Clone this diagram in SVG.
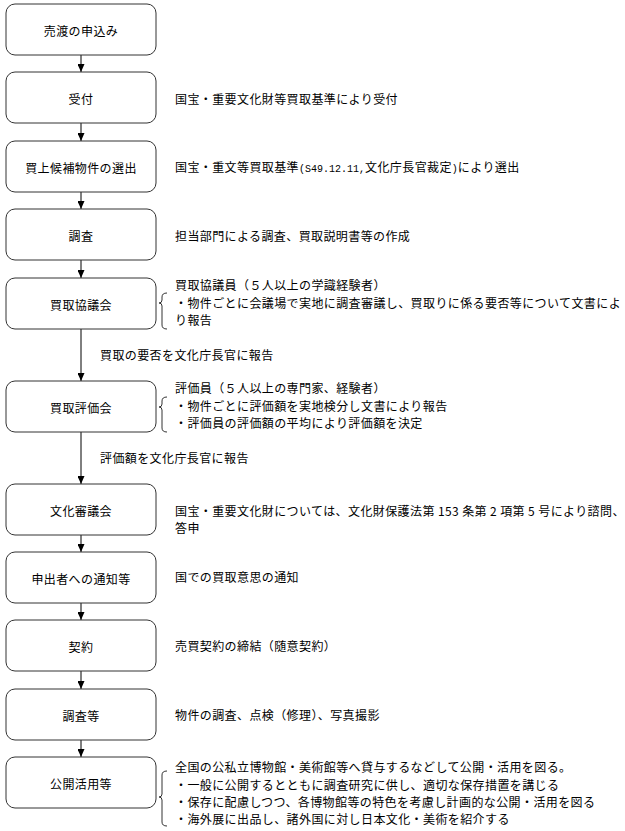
<svg xmlns="http://www.w3.org/2000/svg" width="625" height="831" viewBox="0 0 625 831">
<style>
.box{fill:#fff;stroke:#333;stroke-width:1}
.t{font-family:"Noto Sans CJK JP","Noto Sans CJK SC",sans-serif;font-size:12px;fill:#000;letter-spacing:0.4px}
.c{text-anchor:middle}
.m{font-family:"Liberation Mono","DejaVu Sans Mono",monospace;font-size:10px;letter-spacing:0}
.ln{stroke:#000;stroke-width:1;fill:none}
.br{stroke:#333;stroke-width:1;fill:none}
</style>
<defs>
<marker id="ah" viewBox="0 0 8 7" refX="8" refY="3.5" markerWidth="8" markerHeight="7" markerUnits="userSpaceOnUse" orient="auto">
<path d="M0,0 L8,3.5 L0,7 Z" fill="#000"/>
</marker>
</defs>
<rect width="625" height="831" fill="#fff"/>
<g id="connectors">
<line class="ln" x1="81" y1="55" x2="81" y2="72" marker-end="url(#ah)"/>
<line class="ln" x1="81" y1="123" x2="81" y2="141" marker-end="url(#ah)"/>
<line class="ln" x1="81" y1="192" x2="81" y2="209" marker-end="url(#ah)"/>
<line class="ln" x1="81" y1="260" x2="81" y2="278" marker-end="url(#ah)"/>
<line class="ln" x1="81" y1="329" x2="81" y2="381" marker-end="url(#ah)"/>
<text class="t" x="100" y="360">買取の要否を文化庁長官に報告</text>
<line class="ln" x1="81" y1="432" x2="81" y2="484" marker-end="url(#ah)"/>
<text class="t" x="100" y="463">評価額を文化庁長官に報告</text>
<line class="ln" x1="81" y1="535" x2="81" y2="552" marker-end="url(#ah)"/>
<line class="ln" x1="81" y1="603" x2="81" y2="620" marker-end="url(#ah)"/>
<line class="ln" x1="81" y1="671" x2="81" y2="689" marker-end="url(#ah)"/>
<line class="ln" x1="81" y1="740" x2="81" y2="757" marker-end="url(#ah)"/>
</g>
<g id="n1"><rect class="box" x="6" y="4" width="150" height="51" rx="9"/><text class="t c" x="81" y="36">売渡の申込み</text></g>
<g id="n2"><rect class="box" x="6" y="72" width="150" height="51" rx="9"/><text class="t c" x="81" y="104">受付</text>
<text class="t" x="175" y="104">国宝・重要文化財等買取基準により受付</text></g>
<g id="n3"><rect class="box" x="6" y="141" width="150" height="51" rx="9"/><text class="t c" x="81" y="173">買上候補物件の選出</text>
<text class="t" x="175" y="172">国宝・重文等買取基準<tspan class="m">(S49.12.11,</tspan>文化庁長官裁定<tspan class="m">)</tspan>により選出</text></g>
<g id="n4"><rect class="box" x="6" y="209" width="150" height="51" rx="9"/><text class="t c" x="81" y="241">調査</text>
<text class="t" x="175" y="241">担当部門による調査、買取説明書等の作成</text></g>
<g id="n5"><rect class="box" x="6" y="278" width="150" height="51" rx="9"/><text class="t c" x="81" y="310">買取協議会</text>
<path class="br" d="M167,293 Q162,293 162,297 L162,300 Q162,303 159,303 Q162,303 162,306 L162,325 Q162,329 167,329"/>
<text class="t" x="175" y="290">買取協議員（５人以上の学識経験者）</text>
<text class="t" x="175" y="308">・物件ごとに会議場で実地に調査審議し、買取りに係る要否等について文書によ</text>
<text class="t" x="175" y="325">り報告</text></g>
<g id="n6"><rect class="box" x="6" y="381" width="150" height="51" rx="9"/><text class="t c" x="81" y="413">買取評価会</text>
<path class="br" d="M167,397 Q162,397 162,401 L162,404 Q162,407 159,407 Q162,407 162,410 L162,428 Q162,432 167,432"/>
<text class="t" x="175" y="393">評価員（５人以上の専門家、経験者）</text>
<text class="t" x="175" y="411">・物件ごとに評価額を実地検分し文書により報告</text>
<text class="t" x="175" y="428">・評価員の評価額の平均により評価額を決定</text></g>
<g id="n7"><rect class="box" x="6" y="484" width="150" height="51" rx="9"/><text class="t c" x="81" y="516">文化審議会</text>
<text class="t" x="175" y="516">国宝・重要文化財については、文化財保護法第 153 条第 2 項第 5 号により諮問、</text>
<text class="t" x="175" y="533">答申</text></g>
<g id="n8"><rect class="box" x="6" y="552" width="150" height="51" rx="9"/><text class="t c" x="81" y="584">申出者への通知等</text>
<text class="t" x="175" y="582">国での買取意思の通知</text></g>
<g id="n9"><rect class="box" x="6" y="620" width="150" height="51" rx="9"/><text class="t c" x="81" y="652">契約</text>
<text class="t" x="175" y="651">売買契約の締結（随意契約）</text></g>
<g id="n10"><rect class="box" x="6" y="689" width="150" height="51" rx="9"/><text class="t c" x="81" y="721">調査等</text>
<text class="t" x="175" y="720">物件の調査、点検（修理）、写真撮影</text></g>
<g id="n11"><rect class="box" x="6" y="757" width="150" height="51" rx="9"/><text class="t c" x="81" y="789">公開活用等</text>
<path class="br" d="M167,771 Q162,771 162,775 L162,794 Q162,797 159,797 Q162,797 162,800 L162,822 Q162,826 167,826"/>
<text class="t" x="175" y="772">全国の公私立博物館・美術館等へ貸与するなどして公開・活用を図る。</text>
<text class="t" x="175" y="790">・一般に公開するとともに調査研究に供し、適切な保存措置を講じる</text>
<text class="t" x="175" y="807">・保存に配慮しつつ、各博物館等の特色を考慮し計画的な公開・活用を図る</text>
<text class="t" x="175" y="824">・海外展に出品し、諸外国に対し日本文化・美術を紹介する</text></g>
</svg>
